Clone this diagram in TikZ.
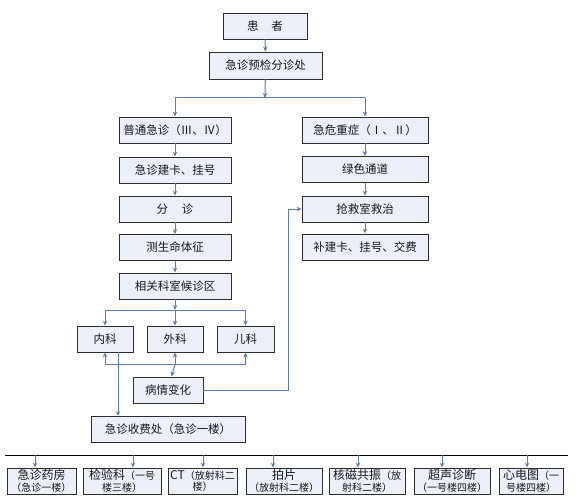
\documentclass[tikz,border=0pt]{standalone}
\usepackage{fontspec}
\newfontfamily\cjk{Noto Sans CJK SC}
\usetikzlibrary{arrows.meta}
\definecolor{boxfill}{RGB}{234,239,248}
\definecolor{linec}{RGB}{92,124,180}
\definecolor{boxline}{RGB}{45,45,45}
\newcommand\smallcjk{\fontsize{10}{11}\selectfont}
\begin{document}
\begin{tikzpicture}[x=1pt,y=-1pt,
  box/.style={draw=boxline,fill=boxfill,line width=0.9pt,minimum height=26pt,inner sep=0pt,
    font=\cjk\fontsize{11.5}{13}\selectfont,text=black!90},
  sbox/.style={box,minimum height=26pt,align=center,font=\cjk\fontsize{12}{11.5}\selectfont},
  arr/.style={draw=linec,line width=1pt,-{Stealth[length=5pt,width=4.5pt]}},
  ln/.style={draw=linec,line width=1pt}]
\useasboundingbox (0,0) rectangle (587,503);

% top
\node[box,minimum width=84pt] (p1) at (265,26) {患\hspace{1.1em}者};
\node[box,minimum width=113pt,minimum height=27pt] (p2) at (265.5,65.5) {急诊预检分诊处};

% left column
\node[box,minimum width=112pt] (L1) at (175,130) {普通急诊（Ⅲ、Ⅳ）};
\node[box,minimum width=112pt] (L2) at (175,170) {急诊建卡、挂号};
\node[box,minimum width=112pt] (L3) at (175,209) {分\hspace{1.2em}诊};
\node[box,minimum width=112pt] (L4) at (175,247.5) {测生命体征};
\node[box,minimum width=112pt] (L5) at (175,286) {相关科室候诊区};

% right column
\node[box,minimum width=126pt] (R1) at (365,130) {急危重症（Ⅰ、Ⅱ）};
\node[box,minimum width=126pt] (R2) at (365,169.5) {绿色通道};
\node[box,minimum width=126pt] (R3) at (365,209) {抢救室救治};
\node[box,minimum width=126pt] (R4) at (365,247) {补建卡、挂号、交费};

% departments
\node[box,minimum width=56pt] (nk) at (105,339) {内科};
\node[box,minimum width=56pt] (wk) at (175,339) {外科};
\node[box,minimum width=57pt] (ek) at (245.5,339) {儿科};
\node[box,minimum width=70pt] (bq) at (168,390) {病情变化};
\node[box,minimum width=154pt] (sf) at (168,429.5) {急诊收费处（急诊一楼）};

% bottom row
\node[sbox,minimum width=69pt] (b1) at (41.5,481) {急诊药房\\{\smallcjk （急诊一楼）}};
\node[sbox,minimum width=78pt] (b2) at (122,481) {检验科{\smallcjk （一号}\\{\smallcjk 楼三楼）}};
\node[sbox,minimum width=69pt] (b3) at (202.5,481) {CT{\smallcjk （放射科二}\\{\smallcjk 楼）}};
\node[sbox,minimum width=76pt] (b4) at (284,481) {拍片\\{\smallcjk （放射科二楼）}};
\node[sbox,minimum width=76pt] (b5) at (367,481) {核磁共振{\smallcjk （放}\\{\smallcjk 射科二楼）}};
\node[sbox,minimum width=76pt] (b6) at (452,481) {超声诊断\\{\smallcjk （一号楼四楼）}};
\node[sbox,minimum width=64pt] (b7) at (531,481) {心电图{\smallcjk （一}\\{\smallcjk 号楼四楼）}};

% coordinates
\coordinate (j1) at (265,98);
\coordinate (j1l) at (175,98);
\coordinate (j1r) at (365,98);
\coordinate (j2) at (175,310);
\coordinate (j2l) at (105,310);
\coordinate (j2r) at (245.5,310);
\coordinate (j3) at (175,364);
\coordinate (j3l) at (105,364);
\coordinate (j3r) at (245.5,364);
\coordinate (rv) at (288,390);
\coordinate (rt) at (288,209);
\coordinate (bl) at (5,455);
\coordinate (br) at (568,455);
\coordinate (a1) at (35,455);
\coordinate (a2) at (133,455);
\coordinate (a3) at (203,455);
\coordinate (a4) at (273,455);
\coordinate (a5) at (358,455);
\coordinate (a6) at (442,455);
\coordinate (a7) at (527,455);

% connectors
\draw[arr] (p1) -- (p2);
\draw[arr] (p2) -- (j1);
\draw[ln] (j1l) -- (j1r);
\draw[arr] (j1l) -- (L1);
\draw[arr] (j1r) -- (R1);
\draw[arr] (L1) -- (L2);
\draw[arr] (L2) -- (L3);
\draw[arr] (L3) -- (L4);
\draw[arr] (L4) -- (L5);
\draw[arr] (L5) -- (j2);
\draw[ln] (j2l) -- (j2r);
\draw[arr] (j2l) -- (nk);
\draw[arr] (j2) -- (wk);
\draw[arr] (j2r) -- (ek);
\draw[arr] (R1) -- (R2);
\draw[arr] (R2) -- (R3);
\draw[arr] (R3) -- (R4);
\draw[ln] (j3l) -- (j3r);
\draw[arr] (j3l) -- (nk);
\draw[arr] (j3) -- (wk);
\draw[arr] (j3r) -- (ek);
\draw[arr] (j3) -- (bq);
\draw[arr] (bq.east) -- (rv) -- (rt) -- (R3.west);
\draw[arr] (nk.south -| 118,0) -- (sf.north -| 118,0);
\draw[line width=1pt,black] (bl) -- (br);
\foreach \i in {1,...,7} {\draw[arr] (a\i) -- (a\i |- b\i.north);}
\end{tikzpicture}
\end{document}
